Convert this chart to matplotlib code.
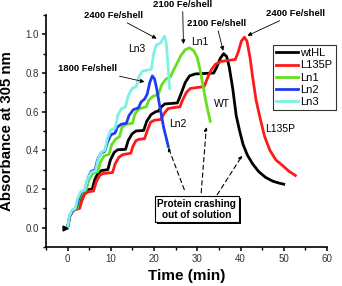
import matplotlib
matplotlib.use("Agg")
import matplotlib.pyplot as plt
from matplotlib.ticker import MultipleLocator
from matplotlib.patches import Rectangle
import matplotlib.transforms as mtransforms

plt.rcParams['font.family'] = ['Liberation Sans', 'DejaVu Sans']

# absorbance traces (time in min, A305)
wt_t = [0, 0.5, 1.3, 2.5, 2.9, 3.6, 4.4, 5.7, 6.3, 7.0, 7.8, 9.3, 9.9, 10.8, 11.6, 13.4,
        14.0, 14.9, 15.8, 17.6, 18.3, 19.3, 20.4, 21.0, 21.7, 22.5, 25.4, 26.2, 27.2, 28.2,
        29.5, 33.8, 34.5, 35.3, 36.1, 36.8, 37.4, 38.2, 39.0, 39.8, 40.6, 41.6, 42.8, 44.2,
        45.8, 47.5, 49.0, 50.0]
wt_a = [0, 0.06, 0.09, 0.1, 0.14, 0.18, 0.195, 0.2, 0.25, 0.28, 0.295, 0.3, 0.35, 0.39, 0.403, 0.405,
        0.45, 0.485, 0.5, 0.503, 0.55, 0.585, 0.6, 0.603, 0.625, 0.64, 0.645, 0.69, 0.75, 0.785,
        0.795, 0.8, 0.83, 0.875, 0.9, 0.885, 0.83, 0.72, 0.58, 0.5, 0.43, 0.375, 0.33, 0.29,
        0.26, 0.24, 0.23, 0.225]

l135p_t = [0, 0.5, 1.3, 2.8, 3.3, 4.0, 4.8, 6.0, 6.6, 7.4, 8.2, 10.4, 11.0, 11.9, 12.8, 14.6,
           15.1, 15.8, 16.5, 17.8, 18.4, 19.2, 20.0, 21.6, 22.3, 23.2, 24.2, 26.0, 26.6, 27.5,
           28.4, 31.6, 32.3, 33.2, 34.2, 35.5, 38.8, 39.5, 40.2, 40.9, 41.5, 42.2, 42.8, 43.6,
           44.6, 45.6, 46.8, 48.2, 49.8, 51.3, 52.7]
l135p_a = [0, 0.06, 0.09, 0.1, 0.14, 0.175, 0.185, 0.19, 0.235, 0.27, 0.28, 0.285, 0.33, 0.365, 0.378, 0.385,
           0.42, 0.45, 0.457, 0.46, 0.5, 0.545, 0.555, 0.56, 0.59, 0.615, 0.62, 0.625, 0.66, 0.70,
           0.72, 0.73, 0.77, 0.815, 0.845, 0.86, 0.87, 0.91, 0.965, 0.985, 0.965, 0.88, 0.78, 0.66,
           0.56, 0.47, 0.40, 0.35, 0.32, 0.29, 0.27]

ln1_t = [0, 0.5, 1.3, 2.2, 2.7, 3.5, 4.3, 4.9, 5.8, 7.0, 7.6, 8.4, 9.6, 10.2, 11.2, 12.0, 12.6,
         13.5, 15.0, 15.6, 16.6, 18.2, 18.8, 19.8, 21.0, 21.8, 22.8, 23.8, 24.4, 25.2, 26.2,
         27.2, 28.2, 29.2, 30.0, 30.8, 31.6, 32.3, 33.0]
ln1_a = [0, 0.06, 0.09, 0.1, 0.15, 0.185, 0.195, 0.245, 0.28, 0.29, 0.34, 0.37, 0.38, 0.43, 0.46, 0.47, 0.52,
         0.535, 0.54, 0.59, 0.615, 0.625, 0.66, 0.68, 0.69, 0.74, 0.77, 0.78, 0.81, 0.845, 0.89,
         0.92, 0.93, 0.915, 0.88, 0.80, 0.70, 0.62, 0.55]

ln2_t = [0, 0.5, 1.2, 2.0, 2.5, 3.2, 4.0, 4.6, 5.4, 6.4, 6.9, 7.7, 8.6, 9.2, 10.0, 11.0, 11.5,
         12.4, 13.6, 14.2, 15.2, 16.4, 17.0, 17.8, 18.4, 19.0, 19.6, 20.1, 20.6, 21.3, 22.2, 23.3]
ln2_a = [0, 0.06, 0.09, 0.1, 0.15, 0.185, 0.195, 0.25, 0.29, 0.3, 0.35, 0.385, 0.395, 0.44, 0.48, 0.49, 0.52,
         0.535, 0.54, 0.58, 0.61, 0.62, 0.65, 0.665, 0.69, 0.75, 0.785, 0.77, 0.72, 0.63, 0.52, 0.42]

ln3_t = [0, 0.4, 1.0, 1.8, 2.3, 3.0, 4.0, 4.6, 5.4, 6.5, 7.0, 7.8, 8.6, 9.2, 10.0, 11.0, 11.6,
         12.4, 13.4, 14.0, 14.9, 15.9, 16.5, 17.3, 18.5, 19.4, 19.9, 20.5, 21.5, 22.0, 22.4,
         22.8, 23.2, 23.6]
ln3_a = [0, 0.06, 0.09, 0.1, 0.15, 0.185, 0.195, 0.25, 0.285, 0.295, 0.35, 0.39, 0.4, 0.46, 0.505, 0.515, 0.58,
         0.615, 0.625, 0.68, 0.72, 0.73, 0.78, 0.81, 0.815, 0.82, 0.9, 0.945, 0.955, 0.975, 0.99,
         0.96, 0.85, 0.72]

fig = plt.figure(figsize=(3.42, 2.86), dpi=100)
ax = fig.add_axes([0.1345, 0.1364, 0.8215, 0.8112])

ax.plot(wt_t, wt_a, color='black', lw=2, label='wtHL')
ax.plot(l135p_t, l135p_a, color='#ff1a1a', lw=2, label='L135P')
ax.plot(ln1_t, ln1_a, color='#66e01a', lw=2, label='Ln1')
ax.plot(ln2_t, ln2_a, color='#1f3cf0', lw=2, label='Ln2')
ax.plot(ln3_t, ln3_a, color='#7ff0e6', lw=2, label='Ln3')
ax.plot([-0.7], [0], marker='>', color='black', ms=3.5, ls='none')

ax.set_xlim(-5, 60)
ax.set_ylim(-0.1, 1.1)
ax.xaxis.set_major_locator(MultipleLocator(10))
ax.xaxis.set_minor_locator(MultipleLocator(5))
ax.yaxis.set_major_locator(MultipleLocator(0.2))
ax.yaxis.set_minor_locator(MultipleLocator(0.1))
ax.yaxis.set_major_formatter(matplotlib.ticker.FormatStrFormatter('%.1f'))
for s in ['top', 'right']:
    ax.spines[s].set_visible(False)
for s in ['left', 'bottom']:
    ax.spines[s].set_linewidth(1.2)
ax.tick_params(which='major', direction='out', length=3, width=1.1, labelsize=7,
               labelcolor='#333333', pad=2)
ax.tick_params(which='minor', direction='out', length=2, width=1)

ax.set_xlabel('Time (min)', fontsize=11, fontweight='bold', labelpad=4)
ax.set_ylabel('Absorbance at 305 nm', fontsize=10.8, fontweight='bold', labelpad=8)

# Fe/shell annotations
ann = dict(fontsize=6.8, fontweight='bold', ha='center', va='center', annotation_clip=False)
arr = dict(arrowstyle='-|>', color='black', lw=0.6, mutation_scale=6, shrinkA=0, shrinkB=0)
ax.annotate('2400 Fe/shell', xy=(20.6, 0.978), xytext=(10.6, 1.097), arrowprops=arr, **ann)
ax.annotate('1800 Fe/shell', xy=(17.8, 0.754), xytext=(4.6, 0.821), arrowprops=arr, **ann)
ax.annotate('2100 Fe/shell', xy=(26.8, 0.95), xytext=(26.6, 1.155), arrowprops=arr, **ann)
ax.annotate('2100 Fe/shell', xy=(36.0, 0.915), xytext=(34.4, 1.056), arrowprops=arr, **ann)
ax.annotate('2400 Fe/shell', xy=(41.6, 0.993), xytext=(52.7, 1.108), arrowprops=arr, **ann)

lab = dict(fontsize=7.5, ha='center', va='center')
ax.text(15.9, 0.925, 'Ln3', **lab)
ax.text(30.7, 0.962, 'Ln1', **lab)
ax.text(25.6, 0.535, 'Ln2', **lab)
ax.text(35.8, 0.639, 'WT', **lab)
ax.text(49.2, 0.509, 'L135P', **lab)

# dashed pointers to where protein crashes out
dash = dict(arrowstyle='-|>', color='black', lw=0.8, ls=(0, (4, 3)), mutation_scale=5,
            shrinkA=0, shrinkB=0)
for xy, xyt in [((23.3, 0.415), (27.0, 0.196)),
                ((32.1, 0.52), (30.9, 0.18)),
                ((40.4, 0.373), (34.6, 0.17))]:
    ax.annotate('', xy=xy, xytext=xyt, arrowprops=dash)

box = ax.text(29.9, 0.095, 'Protein crashing\nout of solution', fontsize=7.2, fontweight='bold',
              ha='center', va='center', linespacing=1.15, zorder=6,
              bbox=dict(boxstyle='square,pad=0.25', fc='white', ec='black', lw=0.8))

leg = ax.legend(loc='upper left', bbox_to_anchor=(0.797, 0.843), bbox_transform=fig.transFigure,
                fontsize=8, frameon=True, fancybox=False, edgecolor='black',
                handlelength=2.0, handletextpad=0.2, borderpad=0.3, labelspacing=0.2,
                borderaxespad=0)
leg.get_frame().set_linewidth(0.8)

# drop shadow behind the text box
fig.canvas.draw()
bb = box.get_bbox_patch().get_window_extent()
ax.add_patch(Rectangle((bb.x0 + 2, bb.y0 - 2), bb.width, bb.height,
                       transform=mtransforms.IdentityTransform(),
                       fc='black', ec='none', zorder=5.5, clip_on=False))

fig.savefig('out.png', dpi=100)
